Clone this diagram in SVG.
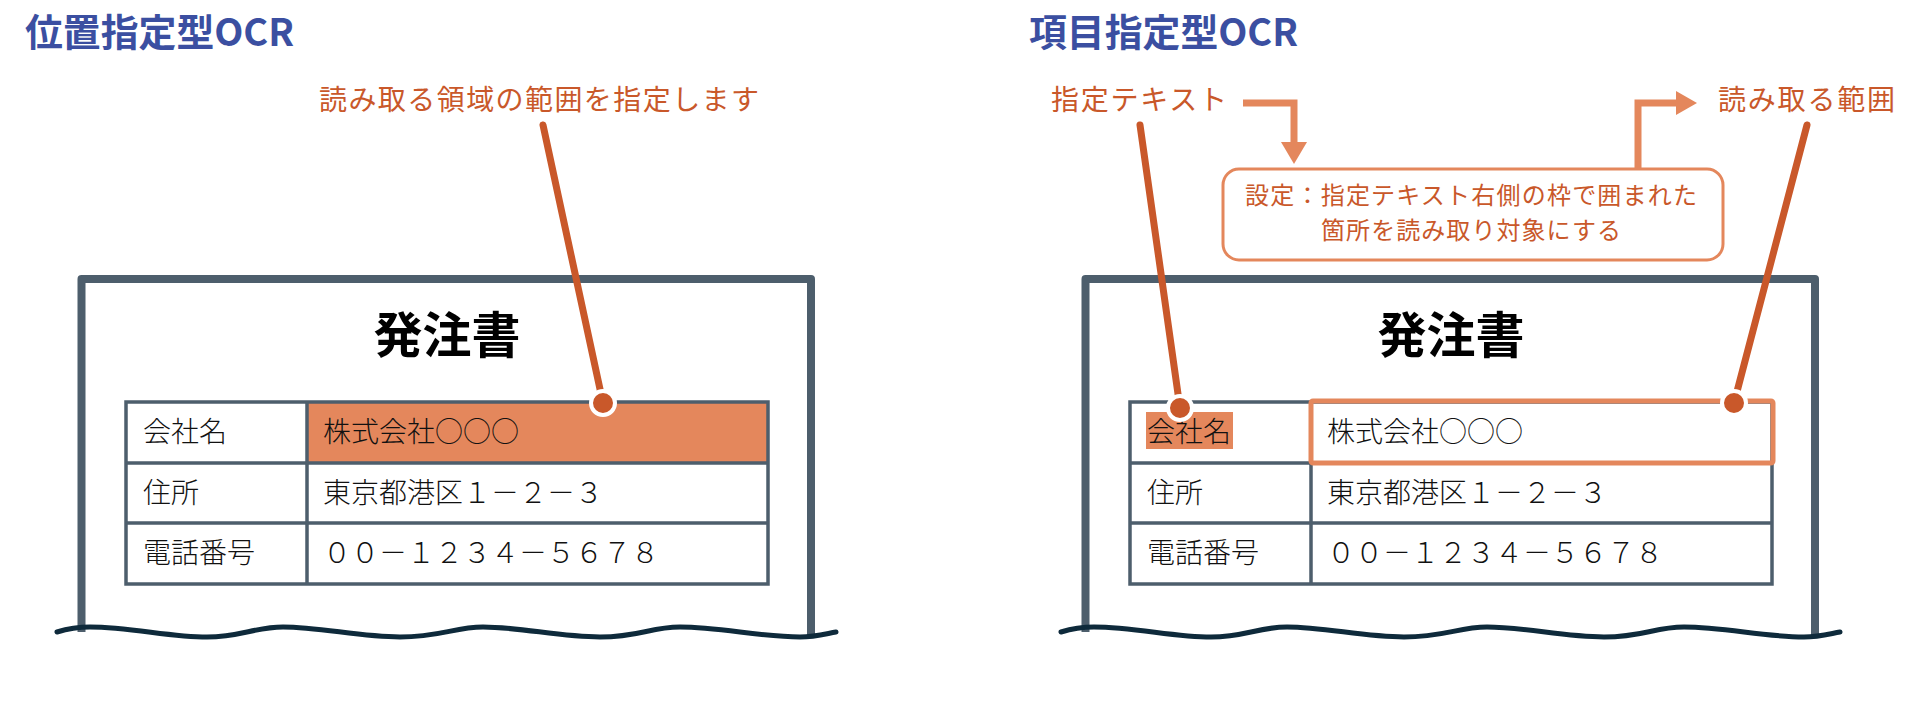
<svg xmlns="http://www.w3.org/2000/svg" width="1920" height="725" viewBox="0 0 1920 725">
<defs>
<style>
.ttl{font-family:"Noto Sans CJK JP","Noto Sans",sans-serif;font-weight:700;font-size:38px;fill:#3B4FA1}
.ann{font-family:"Noto Sans CJK JP",sans-serif;font-size:28px;fill:#C9582A}
.box{font-family:"Noto Sans CJK JP",sans-serif;font-size:24px;fill:#C9582A;text-anchor:middle}
.doc{font-family:"Noto Sans CJK JP",sans-serif;font-weight:700;font-size:49px;fill:#000;text-anchor:middle}
.cell{font-family:"Noto Sans CJK JP",sans-serif;font-weight:300;font-size:28px;fill:#111}
.frame{fill:none;stroke:#4D5E6C;stroke-width:8;stroke-linejoin:round}
.tbl{fill:none;stroke:#4D5E6C;stroke-width:3.5}
.wave{fill:none;stroke:#0E2A3B;stroke-width:5;stroke-linecap:round}
.lead{fill:none;stroke:#C9582A;stroke-width:7;stroke-linecap:round}
.dot{fill:#C9582A;stroke:#fff;stroke-width:4}
.flow{fill:none;stroke:#E4875C;stroke-width:7}
.head{fill:#E4875C}
</style>
<path id="wv" d="M57,632 C70,628 80,627 90,627 C130,627 170,637 207,637 C240,637 255,627 283,627 C320,627 360,637 400,637 C440,637 455,627 483,627 C520,627 560,637 600,637 C640,637 650,627 680,627 C720,627 760,637 800,637 C815,637 825,634 836,632"/>
</defs>
<rect width="1920" height="725" fill="#fff"/>

<!-- Left panel -->
<g id="title-left"><text class="ttl" x="25" y="46" textLength="269" lengthAdjust="spacingAndGlyphs">位置指定型OCR</text></g>
<g id="annotation-left"><text class="ann" x="319" y="110" textLength="440" lengthAdjust="spacing">読み取る領域の範囲を指定します</text></g>
<g id="doc-left">
<path class="frame" d="M81.5,632 V279 H811 V636"/>
<use href="#wv" class="wave"/>
<text class="doc" x="447" y="353">発注書</text>
<rect x="307" y="402" width="461" height="61" fill="#E4875C"/>
<rect class="tbl" x="126" y="402" width="642" height="182"/>
<path class="tbl" d="M126,463 H768 M126,523 H768 M307,402 V584"/>
<text class="cell" x="143" y="442">会社名</text>
<text class="cell" x="143" y="503">住所</text>
<text class="cell" x="143" y="563">電話番号</text>
<text class="cell" x="323" y="442">株式会社○○○</text>
<text class="cell" x="323" y="503">東京都港区１－２－３</text>
<text class="cell" x="323" y="563">００－１２３４－５６７８</text>
</g>

<!-- Right panel -->
<g id="title-right"><text class="ttl" x="1029" y="46" textLength="269" lengthAdjust="spacingAndGlyphs">項目指定型OCR</text></g>
<g id="label-text"><text class="ann" x="1051" y="110" textLength="176" lengthAdjust="spacing">指定テキスト</text></g>
<g id="label-range"><text class="ann" x="1718" y="110" textLength="177" lengthAdjust="spacing">読み取る範囲</text></g>
<g id="setting-box">
<rect x="1223" y="169" width="500" height="91" rx="16" fill="#fff" stroke="#E4875C" stroke-width="3"/>
<text class="box" x="1471" y="204" textLength="452" lengthAdjust="spacing">設定：指定テキスト右側の枠で囲まれた</text>
<text class="box" x="1471" y="239" textLength="300" lengthAdjust="spacing">箇所を読み取り対象にする</text>
</g>
<g id="doc-right">
<path class="frame" d="M1085.5,632 V279 H1815 V636"/>
<use href="#wv" class="wave" transform="translate(1004,0)"/>
<text class="doc" x="1451" y="353">発注書</text>
<rect x="1146" y="412" width="87" height="37" fill="#E4875C"/>
<rect class="tbl" x="1130" y="402" width="642" height="182"/>
<path class="tbl" d="M1130,463 H1772 M1130,523 H1772 M1311,402 V584"/>
<text class="cell" x="1147" y="442">会社名</text>
<text class="cell" x="1147" y="503">住所</text>
<text class="cell" x="1147" y="563">電話番号</text>
<text class="cell" x="1327" y="442">株式会社○○○</text>
<text class="cell" x="1327" y="503">東京都港区１－２－３</text>
<text class="cell" x="1327" y="563">００－１２３４－５６７８</text>
<rect x="1311" y="401" width="462" height="62" rx="2" fill="none" stroke="#E4875C" stroke-width="5"/>
</g>

<!-- Connectors -->
<g id="connectors">
<path class="flow" d="M1243,103 H1294 V144"/>
<polygon class="head" points="1281,142 1307,142 1294,164"/>
<path class="flow" d="M1638,169 V103 H1678"/>
<polygon class="head" points="1676,91 1676,115 1697,103"/>
<line class="lead" x1="543" y1="125" x2="603" y2="403"/>
<circle class="dot" cx="603" cy="403" r="12"/>
<line class="lead" x1="1140" y1="125" x2="1180" y2="408"/>
<circle class="dot" cx="1180" cy="408" r="12"/>
<line class="lead" x1="1807" y1="125" x2="1734" y2="403"/>
<circle class="dot" cx="1734" cy="403" r="12"/>
</g>
</svg>
